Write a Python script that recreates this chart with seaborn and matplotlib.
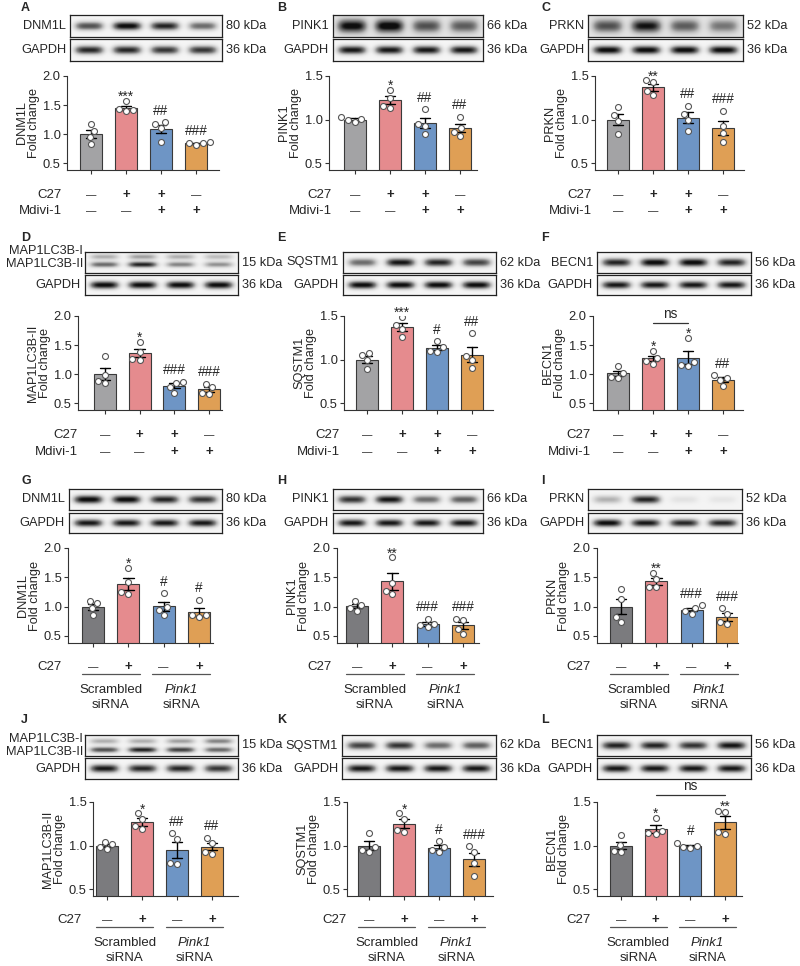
import numpy as np
import pandas as pd
import matplotlib
matplotlib.use('Agg')
import matplotlib.pyplot as plt
import matplotlib.transforms as mtransforms
import seaborn as sns

# ---- data (fold change, 4 replicates per group) ----
a_dnm1l = [[1.17, 1.05, 0.95, 0.83], [1.57, 1.43, 1.41, 1.39], [1.20, 1.17, 1.10, 0.87], [0.86, 0.85, 0.84, 0.81]]
b_pink1 = [[1.03, 1.01, 0.99, 0.97], [1.34, 1.25, 1.16, 1.13], [1.12, 0.95, 0.93, 0.83], [1.03, 0.90, 0.86, 0.81]]
c_prkn = [[1.14, 1.05, 0.98, 0.83], [1.45, 1.43, 1.33, 1.28], [1.16, 1.06, 0.99, 0.87], [1.10, 0.93, 0.84, 0.74]]
d_lc3b = [[1.31, 0.98, 0.88, 0.85], [1.56, 1.38, 1.26, 1.24], [0.87, 0.85, 0.78, 0.68], [0.83, 0.77, 0.68, 0.66]]
e_sqstm1 = [[1.07, 1.05, 0.99, 0.89], [1.49, 1.40, 1.35, 1.26], [1.21, 1.14, 1.10, 1.09], [1.30, 1.04, 0.99, 0.90]]
f_becn1 = [[1.14, 1.02, 0.95, 0.93], [1.40, 1.28, 1.22, 1.18], [1.62, 1.20, 1.16, 1.14], [0.98, 0.93, 0.90, 0.79]]
g_dnm1l = [[1.10, 1.06, 0.97, 0.85], [1.66, 1.42, 1.25, 1.22], [1.23, 0.99, 0.95, 0.85], [1.12, 0.86, 0.85, 0.82]]
h_pink1 = [[1.09, 1.03, 0.97, 0.93], [1.84, 1.40, 1.27, 1.22], [0.79, 0.71, 0.68, 0.65], [0.79, 0.78, 0.62, 0.53]]
i_prkn = [[1.30, 1.13, 0.83, 0.74], [1.58, 1.47, 1.34, 1.33], [1.02, 0.98, 0.93, 0.87], [0.97, 0.88, 0.73, 0.70]]
j_lc3b = [[1.04, 1.02, 0.98, 0.96], [1.37, 1.30, 1.22, 1.19], [1.14, 1.08, 0.80, 0.79], [1.09, 1.03, 0.93, 0.90]]
k_sqstm1 = [[1.14, 0.98, 0.95, 0.93], [1.37, 1.31, 1.18, 1.15], [1.05, 0.98, 0.95, 0.92], [0.99, 0.93, 0.80, 0.65]]
l_becn1 = [[1.12, 1.01, 0.94, 0.93], [1.32, 1.17, 1.14, 1.13], [1.03, 1.00, 0.98, 0.97], [1.40, 1.39, 1.15, 1.13]]

# significance marks above each bar
marks = {
    'A': ['', '***', '##', '###'], 'B': ['', '*', '##', '##'], 'C': ['', '**', '##', '###'],
    'D': ['', '*', '###', '###'], 'E': ['', '***', '#', '##'], 'F': ['', '*', '*', '##'],
    'G': ['', '*', '#', '#'], 'H': ['', '**', '###', '###'], 'I': ['', '**', '###', '###'],
    'J': ['', '*', '##', '##'], 'K': ['', '*', '#', '###'], 'L': ['', '*', '#', '**'],
}

# western blot band darkness per lane
blot_target = {
    'A': [[0.70, 0.95, 0.85, 0.60]], 'B': [[0.85, 0.90, 0.60, 0.55]], 'C': [[0.60, 0.80, 0.55, 0.45]],
    'D': [[0.35, 0.40, 0.35, 0.30], [0.60, 0.85, 0.50, 0.45]], 'E': [[0.60, 0.90, 0.85, 0.75]],
    'F': [[0.85, 0.95, 0.95, 0.85]], 'G': [[0.95, 0.95, 0.85, 0.80]], 'H': [[0.80, 0.90, 0.60, 0.65]],
    'I': [[0.35, 0.85, 0.12, 0.10]], 'J': [[0.35, 0.35, 0.40, 0.50], [0.70, 0.85, 0.75, 0.60]],
    'K': [[0.75, 0.80, 0.60, 0.65]], 'L': [[0.85, 0.85, 0.80, 0.90]],
}
blot_gapdh = {
    'A': [0.85, 0.85, 0.80, 0.80], 'B': [0.90, 0.90, 0.90, 0.90], 'C': [0.95, 0.95, 0.95, 0.95],
    'D': [0.95, 0.95, 0.95, 0.95], 'E': [0.95, 0.95, 0.95, 0.95], 'F': [0.90, 0.90, 0.90, 0.90],
    'G': [0.90, 0.90, 0.90, 0.90], 'H': [0.90, 0.90, 0.90, 0.90], 'I': [0.95, 0.90, 0.85, 0.85],
    'J': [0.90, 0.85, 0.85, 0.80], 'K': [0.90, 0.90, 0.90, 0.90], 'L': [0.90, 0.90, 0.90, 0.90],
}

c27_top = ['—', '+', '+', '—']
mdivi_top = ['—', '—', '+', '+']
c27_si = ['—', '+', '—', '+']
colors_top = ['#a2a2a6', '#f47c80', '#5f93d4', '#f6a03e']
colors_si = ['#7b7b7e', '#f47c80', '#5f93d4', '#f6a03e']

panels = [
    # letter, values, target, kda, ytop
    ('A', a_dnm1l, 'DNM1L', '80 kDa', 2.0), ('B', b_pink1, 'PINK1', '66 kDa', 1.5),
    ('C', c_prkn, 'PRKN', '52 kDa', 1.5), ('D', d_lc3b, 'MAP1LC3B-II', '15 kDa', 2.0),
    ('E', e_sqstm1, 'SQSTM1', '62 kDa', 1.5), ('F', f_becn1, 'BECN1', '56 kDa', 2.0),
    ('G', g_dnm1l, 'DNM1L', '80 kDa', 2.0), ('H', h_pink1, 'PINK1', '66 kDa', 2.0),
    ('I', i_prkn, 'PRKN', '52 kDa', 2.0), ('J', j_lc3b, 'MAP1LC3B-II', '15 kDa', 1.5),
    ('K', k_sqstm1, 'SQSTM1', '62 kDa', 1.5), ('L', l_becn1, 'BECN1', '56 kDa', 1.5),
]

# ---- layout in pixels ----
W, H = 800, 966
blot_x = {'A': (70, 222), 'B': (333, 483), 'C': (588, 743), 'D': (85, 238), 'E': (343, 496), 'F': (597, 751),
          'G': (69, 222), 'H': (333, 483), 'I': (588, 742), 'J': (85, 238), 'K': (342, 496), 'L': (597, 751)}
axes_x = {'A': (67, 219), 'B': (329, 477), 'C': (595, 744), 'D': (78, 222), 'E': (344, 493), 'F': (593, 743),
          'G': (68, 213), 'H': (337, 479), 'I': (597, 738), 'J': (93, 238), 'K': (347, 493), 'L': (597, 742)}
bar_ends = {'A': (91, 196), 'B': (355, 460), 'C': (618, 723), 'D': (105, 209), 'E': (367, 472), 'F': (618, 723),
            'G': (93, 199), 'H': (357, 463), 'I': (621, 727), 'J': (107, 212), 'K': (369, 474), 'L': (621, 725)}
cond_x = {'A': 62, 'B': 332, 'C': 592, 'D': 78, 'E': 340, 'F': 591,
          'G': 62, 'H': 332, 'I': 591, 'J': 82, 'K': 347, 'L': 591}
letter_x = [21, 277, 541]
rows = [
    dict(blot1=(15, 37), blot2=(39, 61), ax=(76, 170), cond=(195, 211), letter=2),
    dict(blot1=(252, 273), blot2=(275, 295), ax=(316, 410), cond=(435, 452), letter=232),
    dict(blot1=(489, 510), blot2=(513, 533), ax=(548, 643), cond=(667, 674, 690, 705), letter=475),
    dict(blot1=(735, 756), blot2=(758, 779), ax=(802, 896), cond=(920, 927, 943, 958), letter=714),
]

sns.set_style('ticks')
plt.rcParams['font.family'] = ['Liberation Sans', 'DejaVu Sans']
FS_BLOT = 9.2
FS_TICK = 9.3
FS_LAB = 9.2
FS_COND = 9.5
FS_MARK = 9.8
FS_DASH = 7.5

fig = plt.figure(figsize=(W / 100, H / 100), dpi=100)


def rect(x0, y0, x1, y1):
    return [x0 / W, 1 - y1 / H, (x1 - x0) / W, (y1 - y0) / H]


def fy(y):
    return 1 - y / H


def draw_blot(x0, x1, y0, y1, bands, ypos, sigma, bg):
    bax = fig.add_axes(rect(x0, y0, x1, y1))
    nx, ny = 200, 40
    xs = np.linspace(0, 1, nx)
    ys = np.linspace(0, 1, ny)
    img = np.full((ny, nx), bg)
    for lane_vals, yc in zip(bands, ypos):
        for i, v in enumerate(lane_vals):
            cx = (i + 0.5) / 4
            px = np.exp(-((xs - cx) / 0.095) ** 4)
            py = np.exp(-((ys - yc) / sigma) ** 2)
            img += v * np.outer(py, px)
    bax.imshow(np.clip(img, 0, 1), cmap='Greys', vmin=0, vmax=1.05, aspect='auto',
               interpolation='bilinear', extent=(0, 1, 1, 0))
    bax.set_xticks([])
    bax.set_yticks([])
    for s in bax.spines.values():
        s.set_linewidth(0.9)
        s.set_color('#222222')


for idx, (letter, vals, target, kda, ytop) in enumerate(panels):
    r = rows[idx // 3]
    top_half = idx < 6

    # panel letter
    fig.text(letter_x[idx % 3] / W, fy(r['letter']), letter, fontsize=9, fontweight='bold', va='top', ha='left')

    # blots
    bx0, bx1 = blot_x[letter]
    diffuse = letter in ('B', 'C')
    b0, b1 = r['blot1']
    if target == 'MAP1LC3B-II':
        ypos = [0.22, 0.6] if letter == 'D' else [0.29, 0.71]
        draw_blot(bx0, bx1, b0, b1, blot_target[letter], ypos, 0.14, 0.1)
        ty = (251, 264) if letter == 'D' else (739, 752)
        fig.text((bx0 - 2) / W, fy(ty[0]), 'MAP1LC3B-I', fontsize=FS_BLOT, ha='right', va='center')
        fig.text((bx0 - 2) / W, fy(ty[1]), 'MAP1LC3B-II', fontsize=FS_BLOT, ha='right', va='center')
    else:
        draw_blot(bx0, bx1, b0, b1, blot_target[letter], [0.5],
                  0.3 if diffuse else 0.2, 0.2 if diffuse else 0.09)
        fig.text((bx0 - 4) / W, fy((b0 + b1) / 2), target, fontsize=FS_BLOT, ha='right', va='center')
    fig.text((bx1 + 4) / W, fy((b0 + b1) / 2), kda, fontsize=FS_BLOT, ha='left', va='center')
    draw_blot(bx0, bx1, *r['blot2'], [blot_gapdh[letter]], [0.5], 0.2, 0.08)
    fig.text((bx0 - 4) / W, fy(sum(r['blot2']) / 2), 'GAPDH', fontsize=FS_BLOT, ha='right', va='center')
    fig.text((bx1 + 4) / W, fy(sum(r['blot2']) / 2), '36 kDa', fontsize=FS_BLOT, ha='left', va='center')

    # bar chart
    ax0, ax1 = axes_x[letter]
    ay0, ay1 = r['ax']
    ax = fig.add_axes(rect(ax0, ay0, ax1, ay1))
    df = pd.DataFrame({'grp': np.repeat(['g1', 'g2', 'g3', 'g4'], 4),
                       'val': np.concatenate(vals)})
    order = ['g1', 'g2', 'g3', 'g4']
    pal = colors_top if top_half else colors_si
    sns.barplot(data=df, x='grp', y='val', hue='grp', order=order, hue_order=order, palette=pal,
                errorbar='se', capsize=0.3, err_kws={'color': 'black', 'linewidth': 1.0},
                edgecolor='#3a3a3a', linewidth=0.8, width=0.63, legend=False, ax=ax)
    sns.swarmplot(data=df, x='grp', y='val', order=order, color='white', edgecolor='#555555',
                  linewidth=0.8, size=4.3, ax=ax)

    f0, f1 = bar_ends[letter]
    sp = (f1 - f0) / 3
    ax.set_xlim((ax0 - f0) / sp, 3 + (ax1 - f1) / sp)
    ymin = 0.5 - 0.08 * (ytop - 0.5)
    ax.set_ylim(ymin, ytop)
    yt = np.arange(0.5, ytop + 0.01, 0.5)
    ax.set_yticks(yt)
    ax.set_yticklabels([f'{v:.1f}' for v in yt], fontsize=FS_TICK)
    ax.set_xticks(range(4))
    ax.set_xticklabels([])
    ax.set_xlabel('')
    ax.set_ylabel(f'{target}\nFold change', fontsize=FS_LAB, labelpad=2, linespacing=1.0)
    ax.tick_params(axis='both', length=3, width=0.8, color='#333333', pad=1.5)
    sns.despine(ax=ax)
    for s in ('left', 'bottom'):
        ax.spines[s].set_linewidth(0.8)
        ax.spines[s].set_color('#333333')

    span = ytop - ymin
    for i, m in enumerate(marks[letter]):
        if m:
            off = 0.08 if '#' in m else 0.0
            ax.text(i, max(vals[i]) + off * span, m, ha='center', va='baseline', fontsize=FS_MARK, clip_on=False)

    if letter == 'F':
        ax.plot([1, 2], [1.88, 1.88], color='#333333', lw=0.9, clip_on=False)
        ax.text(1.5, 1.91, 'ns', ha='center', va='bottom', fontsize=FS_MARK, clip_on=False)
    if letter == 'L':
        ax.plot([1, 3], [1.58, 1.58], color='#333333', lw=0.9, clip_on=False)
        ax.text(2, 1.60, 'ns', ha='center', va='bottom', fontsize=FS_MARK, clip_on=False)

    # condition rows below the axis
    tr = mtransforms.blended_transform_factory(ax.transData, fig.transFigure)
    cx = cond_x[letter] / W

    def sign(i, y, s):
        if s == '+':
            ax.text(i, fy(y), s, transform=tr, ha='center', va='center', fontsize=FS_COND, fontweight='bold')
        else:
            ax.text(i, fy(y), s, transform=tr, ha='center', va='center', fontsize=FS_DASH)

    if top_half:
        y_c27, y_md = r['cond']
        fig.text(cx, fy(y_c27), 'C27', fontsize=FS_COND, ha='right', va='center')
        fig.text(cx, fy(y_md), 'Mdivi-1', fontsize=FS_COND, ha='right', va='center')
        for i in range(4):
            sign(i, y_c27, c27_top[i])
            sign(i, y_md, mdivi_top[i])
    else:
        y_c27, y_line, y_l1, y_l2 = r['cond']
        fig.text(cx, fy(y_c27), 'C27', fontsize=FS_COND, ha='right', va='center')
        for i in range(4):
            sign(i, y_c27, c27_si[i])
        for g0 in (0, 2):
            ax.plot([g0 - 0.32, g0 + 1.32], [fy(y_line), fy(y_line)], transform=tr,
                    color='#555555', lw=0.9, clip_on=False)
        ax.text(0.5, fy(y_l1), 'Scrambled', transform=tr, ha='center', va='center', fontsize=FS_COND)
        ax.text(0.5, fy(y_l2), 'siRNA', transform=tr, ha='center', va='center', fontsize=FS_COND)
        ax.text(2.5, fy(y_l1), 'Pink1', transform=tr, ha='center', va='center', fontsize=FS_COND, style='italic')
        ax.text(2.5, fy(y_l2), 'siRNA', transform=tr, ha='center', va='center', fontsize=FS_COND)

fig.savefig('out.png', dpi=100, facecolor='white')
